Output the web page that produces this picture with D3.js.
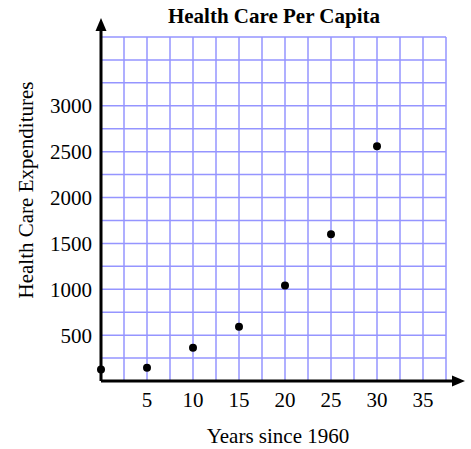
<!DOCTYPE html>
<html>
<head>
<meta charset="utf-8">
<script src="https://cdn.jsdelivr.net/npm/d3@7"></script>
<style>
  body { margin: 0; background: #fff; }
  text { font-family: "Liberation Serif", "Times New Roman", serif; fill: #000; }
</style>
</head>
<body>
<svg id="chart" width="471" height="449"></svg>
<script>
"use strict";

// data
let years = [0, 5, 10, 15, 20, 25, 30];
let spending = [125, 145, 362, 592, 1040, 1600, 2560];
let xTicks = [5, 10, 15, 20, 25, 30, 35];
let yTicks = [500, 1000, 1500, 2000, 2500, 3000];

let svg = d3.select('#chart');

let x = d3.scaleLinear().domain([0, 37.5]).range([101, 446]);
let y = d3.scaleLinear().domain([0, 3750]).range([381, 37]);

// grid every 2.5 years and every 250 dollars
let grid = svg.append('g')
    .attr('stroke', '#9595ff')
    .attr('stroke-width', 1.5);

grid.selectAll('line.v')
    .data(d3.range(1, 16).map(function (i) { return i * 2.5; }))
    .enter()
    .append('line')
    .attr('x1', function (d) { return x(d); })
    .attr('x2', function (d) { return x(d); })
    .attr('y1', y(0))
    .attr('y2', y(3750));

grid.selectAll('line.h')
    .data(d3.range(1, 16).map(function (i) { return i * 250; }))
    .enter()
    .append('line')
    .attr('x1', x(0))
    .attr('x2', x(37.5))
    .attr('y1', function (d) { return y(d); })
    .attr('y2', function (d) { return y(d); });

// axes with arrow heads
let axes = svg.append('g');
axes.append('line')
    .attr('x1', x(0)).attr('x2', 456)
    .attr('y1', y(0)).attr('y2', y(0))
    .attr('stroke', '#000').attr('stroke-width', 3);
axes.append('path')
    .attr('d', 'M465,' + y(0) + ' L452,' + (y(0) - 5.5) + ' L452,' + (y(0) + 5.5) + ' Z')
    .attr('fill', '#000');
axes.append('line')
    .attr('x1', x(0)).attr('x2', x(0))
    .attr('y1', y(0)).attr('y2', 27)
    .attr('stroke', '#000').attr('stroke-width', 3);
axes.append('path')
    .attr('d', 'M' + x(0) + ',18 L' + (x(0) - 5.5) + ',31 L' + (x(0) + 5.5) + ',31 Z')
    .attr('fill', '#000');

// tick labels
svg.selectAll('text.xt')
    .data(xTicks)
    .enter()
    .append('text')
    .attr('x', function (d) { return x(d); })
    .attr('y', 407)
    .attr('text-anchor', 'middle')
    .style('font-size', '21px')
    .text(function (d) { return d; });

svg.selectAll('text.yt')
    .data(yTicks)
    .enter()
    .append('text')
    .attr('x', 92)
    .attr('y', function (d) { return y(d) + 7.5; })
    .attr('text-anchor', 'end')
    .style('font-size', '21px')
    .text(function (d) { return d; });

// points
svg.selectAll('circle')
    .data(years)
    .enter()
    .append('circle')
    .attr('cx', function (d) { return x(d); })
    .attr('cy', function (d, i) { return y(spending[i]); })
    .attr('r', 4)
    .attr('fill', '#000');

// titles
svg.append('text')
    .attr('x', 274)
    .attr('y', 23)
    .attr('text-anchor', 'middle')
    .style('font-size', '21px')
    .style('font-weight', 'bold')
    .text('Health Care Per Capita');

svg.append('text')
    .attr('x', 278)
    .attr('y', 443)
    .attr('text-anchor', 'middle')
    .style('font-size', '21px')
    .text('Years since 1960');

svg.append('text')
    .attr('transform', 'translate(33,190) rotate(-90)')
    .attr('text-anchor', 'middle')
    .style('font-size', '21px')
    .text('Health Care Expenditures');
</script>
</body>
</html>
